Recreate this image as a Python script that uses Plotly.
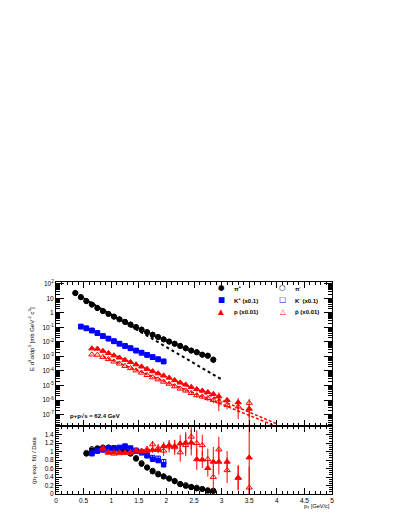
import plotly.graph_objects as go
from plotly.subplots import make_subplots

# pT bins [GeV/c]
pi_pt = [0.35, 0.45, 0.55, 0.65, 0.75, 0.85, 0.95, 1.05, 1.15, 1.25, 1.35, 1.45, 1.55,
         1.65, 1.75, 1.85, 1.95, 2.05, 2.15, 2.25, 2.35, 2.45, 2.55, 2.65, 2.75, 2.85]
k_pt = [0.45, 0.55, 0.65, 0.75, 0.85, 0.95, 1.05, 1.15, 1.25, 1.35, 1.45, 1.55,
        1.65, 1.75, 1.85, 1.95]
p_pt = [0.65, 0.75, 0.85, 0.95, 1.05, 1.15, 1.25, 1.35, 1.45, 1.55, 1.65, 1.75, 1.85,
        1.95, 2.05, 2.15, 2.25, 2.35, 2.45, 2.55, 2.65, 2.75, 2.85, 2.95, 3.1, 3.3, 3.5]

# invariant cross sections [mb GeV^-2 c^3] (kaons x0.1, protons x0.01)
pip_y = [24, 12.5, 6.6, 3.8, 2.2, 1.36, 0.86, 0.56, 0.37, 0.245, 0.16, 0.106, 0.072,
         0.048, 0.032, 0.022, 0.0152, 0.0108, 0.0077, 0.0054, 0.0037, 0.0026, 0.0020,
         0.00135, 0.00115, 0.00058]
pim_y = [23, 12.0, 6.4, 3.7, 2.15, 1.32, 0.84, 0.55, 0.36, 0.24, 0.157, 0.104, 0.070,
         0.047, 0.031, 0.0215, 0.0148, 0.0104, 0.0074, 0.0052, 0.0036, 0.0025, 0.0019,
         0.0013, 0.0011, 0.00062]
pi_err = [0.03, 0.03, 0.03, 0.03, 0.03, 0.03, 0.03, 0.03, 0.03, 0.03, 0.03, 0.04, 0.04,
          0.04, 0.05, 0.05, 0.05, 0.06, 0.06, 0.07, 0.08, 0.09, 0.1, 0.12, 0.15, 0.3]
kp_y = [0.117, 0.089, 0.063, 0.042, 0.026, 0.0174, 0.0115, 0.0078, 0.0054, 0.0038,
        0.0026, 0.00186, 0.00132, 0.00093, 0.00066, 0.00044]
km_y = [0.112, 0.085, 0.060, 0.040, 0.025, 0.0167, 0.0110, 0.0074, 0.0051, 0.0036,
        0.0025, 0.00176, 0.00124, 0.00088, 0.00062, 0.00047]
k_err = [0.04, 0.04, 0.04, 0.04, 0.04, 0.04, 0.05, 0.05, 0.05, 0.06, 0.06, 0.07,
         0.08, 0.09, 0.1, 0.12]
p_y = [3.55e-3, 3.39e-3, 2.4e-3, 1.7e-3, 1.17e-3, 8.3e-4, 5.75e-4, 4.07e-4, 2.82e-4,
       2.0e-4, 1.38e-4, 9.5e-5, 6.8e-5, 4.8e-5, 3.4e-5, 2.3e-5, 1.58e-5, 1.15e-5,
       7.9e-6, 5.6e-6, 4.4e-6, 3.5e-6, 2.6e-6, 1.75e-6, 1.0e-6, 6.9e-7, 2.5e-7]
pbar_y = [1.35e-3, 1.29e-3, 9.1e-4, 6.5e-4, 4.4e-4, 3.2e-4, 2.2e-4, 1.55e-4, 1.07e-4,
          7.6e-5, 5.2e-5, 3.6e-5, 2.6e-5, 1.8e-5, 1.3e-5, 8.7e-6, 6.0e-6, 4.4e-6,
          3.0e-6, 2.1e-6, 1.7e-6, 1.33e-6, 9.9e-7, 8.0e-7, 4.5e-7, 3.5e-7, 6.3e-7]
p_err = [0.04, 0.04, 0.04, 0.04, 0.04, 0.04, 0.05, 0.05, 0.05, 0.06, 0.06, 0.07, 0.08,
         0.09, 0.1, 0.12, 0.15, 0.2, 0.25, 0.3, 0.2, 0.25, 0.3, 0.9, 0.35, 0.93, 0.99]
pbar_err = [0.05, 0.05, 0.05, 0.05, 0.05, 0.05, 0.06, 0.06, 0.06, 0.07, 0.07, 0.08, 0.09,
            0.1, 0.12, 0.14, 0.17, 0.22, 0.27, 0.3, 0.3, 0.35, 0.4, 0.5, 0.5, 0.6, 0.9]

# exponential fits, drawn as straight lines on the log scale (end points)
pi_fit_pt = [0.5, 3.0]
pi_fit_y = [10.0, 2.6e-5]
p_fit_pt = [0.85, 4.0]
p_fit_y = [2.6e-3, 2.3e-8]
pbar_fit_pt = [0.85, 4.0]
pbar_fit_y = [1.02e-3, 1.5e-8]

# ratio fit / data
rpi_pt = [0.55, 0.65, 0.75, 0.85, 0.95, 1.05, 1.15, 1.25, 1.35, 1.45, 1.55, 1.65,
          1.75, 1.85, 1.95, 2.05, 2.15, 2.25, 2.35, 2.45, 2.55, 2.65, 2.75, 2.85]
rpip = [0.95, 1.03, 1.07, 1.08, 1.09, 1.07, 1.05, 1.01, 0.95, 0.83, 0.71, 0.62,
        0.53, 0.46, 0.41, 0.36, 0.30, 0.23, 0.19, 0.16, 0.13, 0.115, 0.075, 0.07]
rpim = [0.97, 1.06, 1.08, 1.10, 1.10, 1.08, 1.06, 1.02, 0.96, 0.85, 0.73, 0.63,
        0.55, 0.48, 0.42, 0.37, 0.31, 0.24, 0.21, 0.17, 0.15, 0.12, 0.09, 0.08]
rpi_err = [0.02, 0.02, 0.02, 0.02, 0.02, 0.02, 0.02, 0.02, 0.02, 0.02, 0.02, 0.02,
           0.02, 0.02, 0.02, 0.02, 0.02, 0.02, 0.02, 0.02, 0.02, 0.02, 0.02, 0.02]
rk_pt = [0.65, 0.75, 0.85, 0.95, 1.05, 1.15, 1.25, 1.35, 1.45, 1.55, 1.65, 1.75, 1.85, 1.95]
rkp = [0.95, 1.01, 1.04, 1.07, 1.055, 1.085, 1.13, 1.085, 1.01, 0.99, 0.9, 0.82, 0.79, 0.69]
rkm = [0.98, 1.03, 1.06, 1.08, 1.09, 1.10, 1.11, 1.06, 1.03, 0.97, 0.92, 0.86, 0.84, 0.76]
rk_err = [0.03, 0.03, 0.03, 0.03, 0.03, 0.03, 0.04, 0.04, 0.04, 0.04, 0.05, 0.05, 0.06, 0.06]
rp_pt = [0.85, 0.95, 1.05, 1.15, 1.25, 1.35, 1.45, 1.55, 1.65, 1.75, 1.85, 1.95, 2.05,
         2.15, 2.25, 2.35, 2.45, 2.55, 2.65, 2.75, 2.85, 2.95, 3.1, 3.3, 3.5]
rp = [1.085, 0.99, 0.98, 0.98, 0.98, 0.97, 1.03, 1.01, 1.02, 1.04, 1.04, 1.13, 1.15,
      1.13, 1.19, 1.21, 1.21, 0.82, 0.81, 0.61, 0.76, 0.76, 0.76, 0.385, 0.86]
rp_err = [0.03, 0.03, 0.03, 0.03, 0.03, 0.04, 0.04, 0.05, 0.06, 0.07, 0.08, 0.1, 0.12,
          0.14, 0.2, 0.25, 0.3, 0.25, 0.2, 0.2, 0.35, 0.3, 0.25, 0.28, 0.9]
rpbar = [1.05, 0.97, 0.95, 0.96, 0.97, 0.99, 1.0, 1.02, 1.06, 1.17, 1.08, 1.02, 1.12,
         1.1, 0.98, 1.15, 1.35, 1.2, 1.15, 0.82, 0.4, 1.05, 0.56, 0.38, 0.15]
rpbar_err = [0.03, 0.03, 0.03, 0.03, 0.04, 0.04, 0.05, 0.05, 0.07, 0.08, 0.1, 0.12, 0.14,
             0.18, 0.22, 0.26, 0.3, 0.3, 0.25, 0.25, 0.3, 0.3, 0.3, 0.3, 0.5]

BLACK, BLUE, RED = "#000000", "#0000ff", "#ff0000"
FONT = "Liberation Sans"

fig = make_subplots(rows=2, cols=1, shared_xaxes=True, vertical_spacing=0,
                    row_heights=[0.68, 0.32])


def pts(x, y, err, color, symbol, size, row, rel=True):
    e = [a * b for a, b in zip(y, err)] if rel else err
    fig.add_trace(go.Scatter(
        x=x, y=y, mode="markers",
        marker=dict(color=color, symbol=symbol, size=size, line=dict(color=color, width=1)),
        error_y=dict(type="data", array=e, color=color, thickness=1, width=0),
        showlegend=False), row=row, col=1)


# fit lines
fig.add_trace(go.Scatter(x=pi_fit_pt, y=pi_fit_y, mode="lines", showlegend=False,
                         line=dict(color=BLACK, width=2, dash="dot")), row=1, col=1)
fig.add_trace(go.Scatter(x=p_fit_pt, y=p_fit_y, mode="lines", showlegend=False,
                         line=dict(color=RED, width=1.5, dash="3px,2px")), row=1, col=1)
fig.add_trace(go.Scatter(x=pbar_fit_pt, y=pbar_fit_y, mode="lines", showlegend=False,
                         line=dict(color=RED, width=1.5, dash="3px,2px")), row=1, col=1)

# spectra
pts(pi_pt, pim_y, pi_err, BLACK, "circle-open", 5, 1)
pts(pi_pt, pip_y, pi_err, BLACK, "circle", 5, 1)
pts(k_pt, km_y, k_err, BLUE, "square-open", 4.5, 1)
pts(k_pt, kp_y, k_err, BLUE, "square", 4.5, 1)
pts(p_pt, pbar_y, pbar_err, RED, "triangle-up-open", 5.5, 1)
pts(p_pt, p_y, p_err, RED, "triangle-up", 5.5, 1)

# ratios
fig.add_hline(y=1, line=dict(color="#808080", width=1.5), row=2, col=1)
fig.add_hline(y=0.5, line=dict(color=BLACK, width=1, dash="3px,2px"), row=2, col=1)
pts(rpi_pt, rpim, rpi_err, BLACK, "circle-open", 5, 2, rel=False)
pts(rpi_pt, rpip, rpi_err, BLACK, "circle", 5, 2, rel=False)
pts(rk_pt, rkm, rk_err, BLUE, "square-open", 4.5, 2, rel=False)
pts(rk_pt, rkp, rk_err, BLUE, "square", 4.5, 2, rel=False)
pts(rp_pt, rpbar, rpbar_err, RED, "triangle-up-open", 5.5, 2, rel=False)
pts(rp_pt, rp, rp_err, RED, "triangle-up", 5.5, 2, rel=False)

tickfont = dict(family=FONT, size=6.5, color=BLACK)
axis_common = dict(showline=True, linecolor=BLACK, linewidth=1, mirror="allticks",
                   ticks="inside", tickcolor=BLACK, showgrid=False, zeroline=False,
                   tickfont=tickfont)

fig.update_xaxes(range=[0, 5], tickvals=[0, 0.5, 1, 1.5, 2, 2.5, 3, 3.5, 4, 4.5, 5],
                 ticktext=["0", "0.5", "1", "1.5", "2", "2.5", "3", "3.5", "4", "4.5", "5"],
                 ticklen=6, minor=dict(dtick=0.1, ticklen=3, ticks="inside", tickcolor=BLACK),
                 **axis_common)
fig.update_xaxes(showticklabels=False, row=1, col=1)

decades = [1e2, 10, 1, 0.1, 1e-2, 1e-3, 1e-4, 1e-5, 1e-6, 1e-7]
decade_txt = ["10<sup>2</sup>", "10", "1", "10<sup>-1</sup>", "10<sup>-2</sup>",
              "10<sup>-3</sup>", "10<sup>-4</sup>", "10<sup>-5</sup>", "10<sup>-6</sup>",
              "10<sup>-7</sup>"]
minor_log = [m * 10.0 ** e for e in range(-8, 3) for m in range(2, 10)]
fig.update_yaxes(type="log", range=[-7.8, 2.13], tickvals=decades, ticktext=decade_txt,
                 ticklen=8, minor=dict(tickvals=minor_log, ticklen=4, ticks="inside",
                                       tickcolor=BLACK),
                 row=1, col=1, **axis_common)
fig.update_yaxes(range=[0, 1.6], tickvals=[0, 0.2, 0.4, 0.6, 0.8, 1, 1.2, 1.4],
                 ticktext=["0", "0.2", "0.4", "0.6", "0.8", "1", "1.2", "1.4"],
                 ticklen=6, minor=dict(dtick=0.05, ticklen=3, ticks="inside", tickcolor=BLACK),
                 row=2, col=1, **axis_common)

txt = dict(family=FONT, size=6, color=BLACK)
ann = [
    dict(x=-0.088, y=0.73, text="E d<sup>3</sup>σ/dp<sup>3</sup> [mb GeV<sup>-2</sup> c<sup>3</sup>]",
         textangle=-90),
    dict(x=-0.08, y=0.16, text="(p<sub>T</sub> exp. fit) / Data", textangle=-90),
    dict(x=1.0, y=-0.06, text="p<sub>T</sub> [GeV/c]", xanchor="right",
         font=dict(family=FONT, size=5.5, color=BLACK)),
    dict(x=0.043, y=0.366, text="<b>p+p√s = 62.4 GeV</b>", xanchor="left"),
]
# legend block
leg_y = [0.972, 0.916, 0.860]
leg_rows = [("●", "π<sup>+</sup>", "○", "π<sup>-</sup>", BLACK),
            ("■", "K<sup>+</sup> (x0.1)", "□", "K<sup>-</sup> (x0.1)", BLUE),
            ("▲", "p (x0.01)", "△", "p̄ (x0.01)", RED)]
for yy, (s1, t1, s2, t2, c) in zip(leg_y, leg_rows):
    ann.append(dict(x=0.598, y=yy, text=s1, font=dict(family="DejaVu Sans", size=7.5, color=c)))
    ann.append(dict(x=0.822, y=yy, text=s2, font=dict(family="DejaVu Sans", size=7.5, color=c)))
    ann.append(dict(x=0.638, y=yy, text="<b>" + t1 + "</b>", xanchor="left"))
    ann.append(dict(x=0.859, y=yy, text="<b>" + t2 + "</b>", xanchor="left"))
for a in ann:
    a.setdefault("xref", "paper")
    a.setdefault("yref", "paper")
    a.setdefault("xanchor", "center")
    a.setdefault("yanchor", "middle")
    a.setdefault("showarrow", False)
    a.setdefault("font", txt)
    fig.add_annotation(**a)

# page body adds an 8 px offset, so the figure is shrunk by that amount
fig.update_layout(width=391, height=508, margin=dict(l=48, r=67, t=274, b=12),
                  plot_bgcolor="white", paper_bgcolor="white", showlegend=False)

fig.write_html("out.html")
